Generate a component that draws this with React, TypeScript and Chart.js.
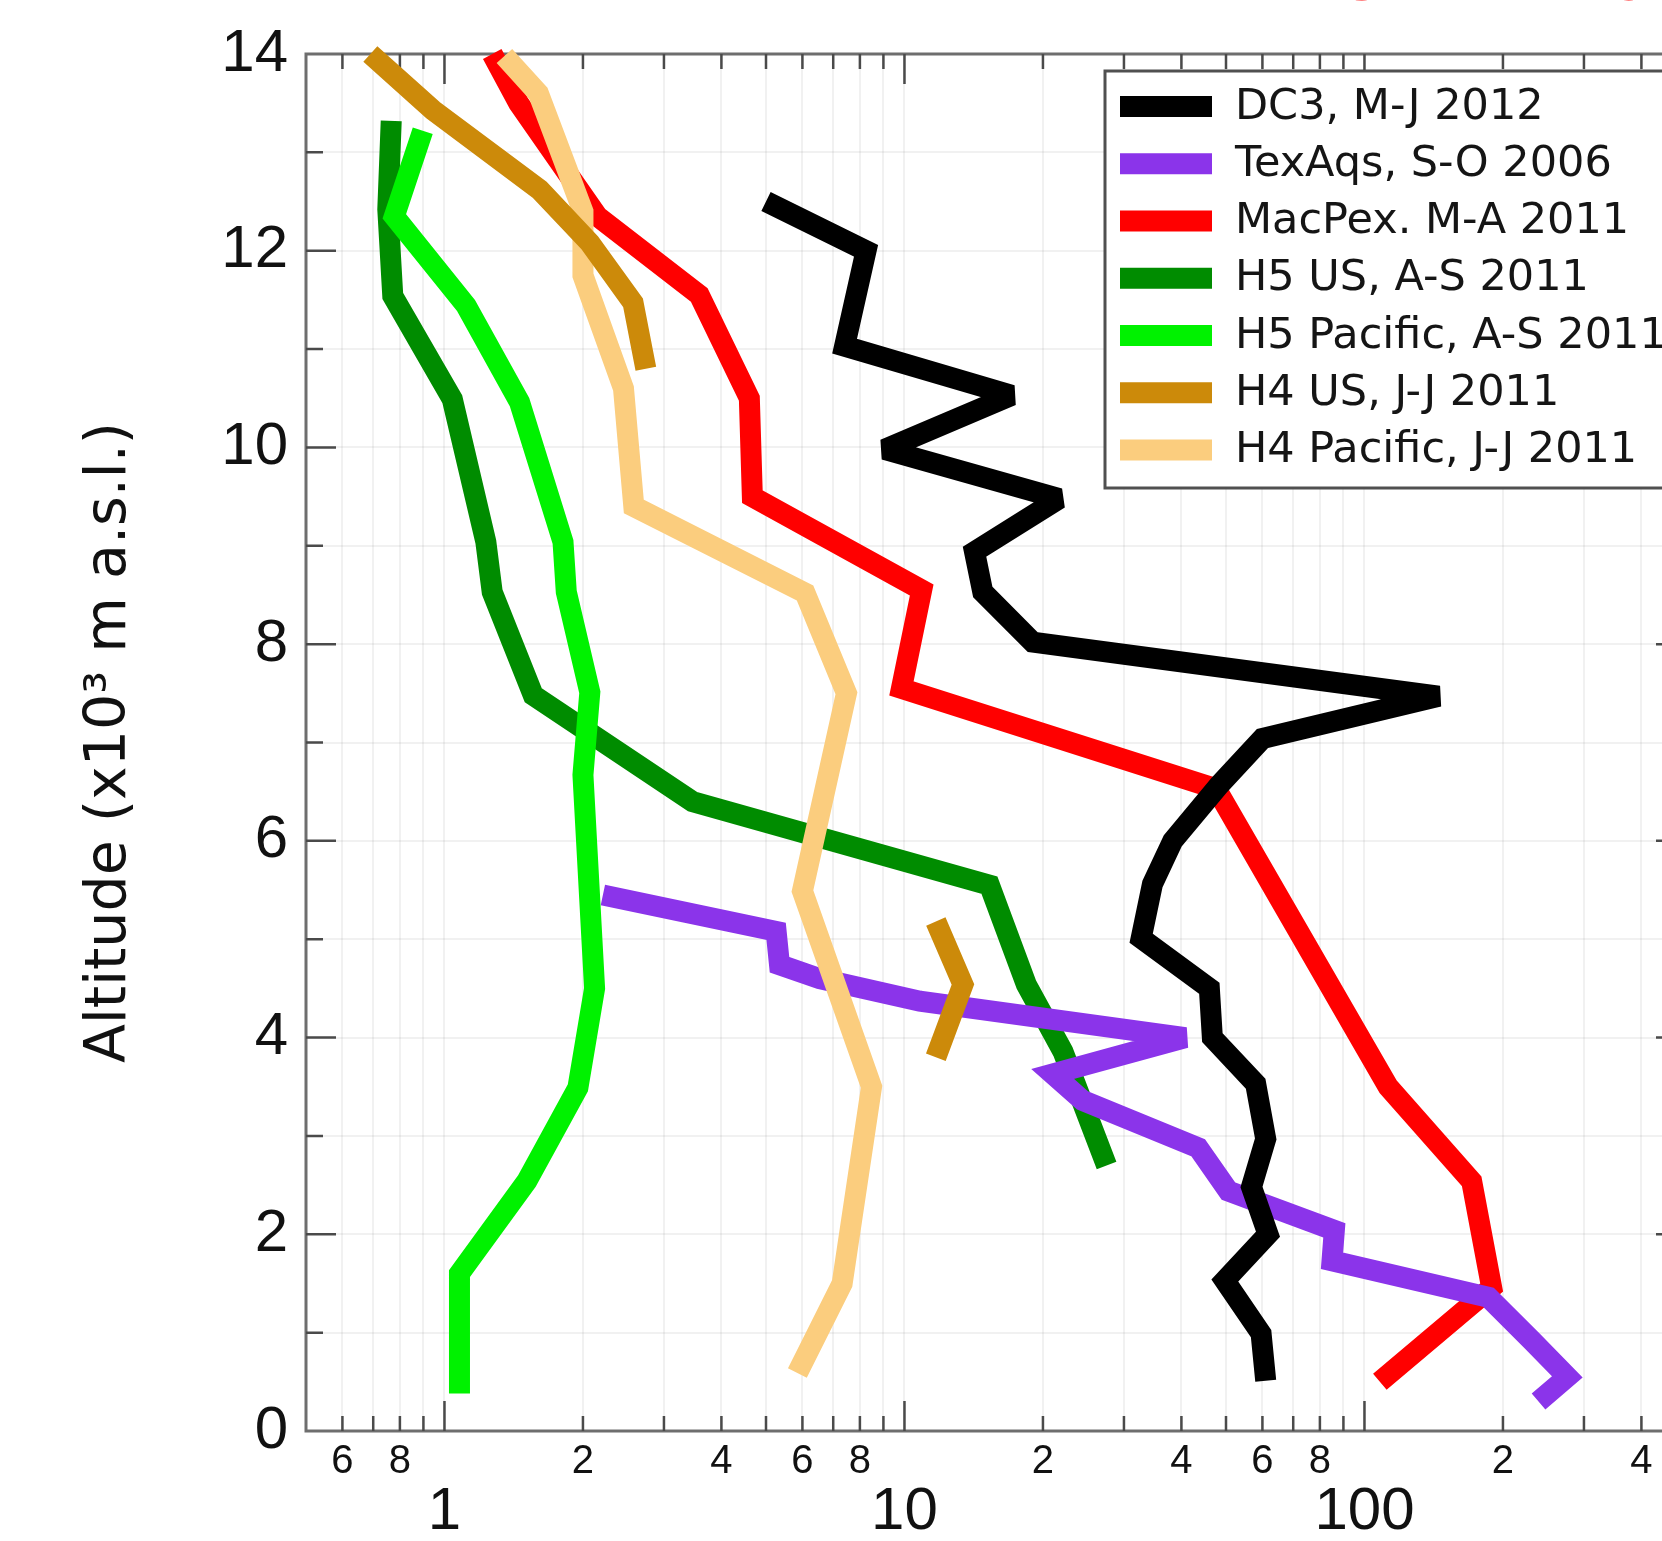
import React, { useEffect, useRef } from 'react';
import { Chart, registerables } from 'chart.js';

Chart.register(...registerables);

// ---------- data (altitude in km, value on log axis) ----------
const SERIES_LABELS = [
  'DC3, M-J 2012',
  'TexAqs, S-O 2006',
  'MacPex. M-A 2011',
  'H5 US, A-S 2011',
  'H5 Pacific, A-S 2011',
  'H4 US, J-J 2011',
  'H4 Pacific, J-J 2011',
];
const SERIES_COLORS = ['#000000', '#8b34ea', '#ff0000', '#008c00', '#00f200', '#cc8a0a', '#fbcd7e'];
// lower = drawn on top
const SERIES_ORDER = [4, 5, 6, 7, 3, 1, 2];

const DC3_ALT = [12.5, 12.0, 11.03, 10.53, 9.98, 9.48, 8.94, 8.53, 8.02, 7.47, 7.04, 6.57, 6.0, 5.56, 5.01, 4.5, 4.0, 3.53, 2.97, 2.48, 2.0, 1.53, 0.99, 0.51];
const DC3_VAL = [5.0, 8.25, 7.41, 17.1, 9.05, 21.7, 14.2, 14.8, 19.0, 145, 60, 48.4, 38.3, 34.6, 32.7, 46, 46.7, 58, 61, 56.8, 61.7, 49.7, 59.6, 61];

const TEXAQS_ALT = [5.45, 5.08, 4.74, 4.6, 4.37, 4.0, 3.63, 3.36, 2.88, 2.44, 2.04, 1.73, 1.36, 0.92, 0.55, 0.3];
const TEXAQS_VAL = [2.21, 5.26, 5.35, 6.54, 10.8, 40.8, 21.0, 24.4, 43.5, 50.6, 86, 85, 186, 231, 276, 239];

const MACPEX_ALT = [14.0, 13.5, 12.35, 11.55, 10.5, 9.5, 8.55, 7.55, 6.53, 3.5, 2.54, 1.46, 0.5];
const MACPEX_VAL = [1.27, 1.45, 2.15, 3.58, 4.6, 4.67, 10.9, 9.85, 47.6, 112.6, 171, 189, 108];

const H5US_ALT = [13.32, 12.42, 11.54, 10.49, 9.04, 8.53, 7.48, 6.4, 5.55, 4.54, 3.86, 2.7];
const H5US_VAL = [0.766, 0.753, 0.772, 1.04, 1.23, 1.27, 1.56, 3.46, 15.3, 18.4, 22.1, 27.5];

const H5PAC_ALT = [13.22, 12.35, 11.44, 10.46, 9.04, 8.53, 7.51, 6.67, 4.5, 3.49, 2.54, 1.6, 0.38];
const H5PAC_VAL = [0.897, 0.778, 1.115, 1.456, 1.81, 1.84, 2.07, 2.0, 2.12, 1.95, 1.51, 1.078, 1.078];

const H4US_ALT = [14.0, 13.43, 12.62, 12.08, 11.47, 10.8, null, 5.18, 4.54, 3.8];
const H4US_VAL = [0.69, 0.944, 1.61, 2.07, 2.57, 2.74, null, 11.7, 13.4, 11.7];

const H4PAC_ALT = [13.98, 13.6, 12.4, 11.75, 10.6, 9.4, 8.52, 7.5, 5.49, 3.5, 1.5, 0.59];
const H4PAC_VAL = [1.35, 1.6, 2.0, 2.0, 2.45, 2.58, 6.08, 7.48, 6.0, 8.48, 7.32, 5.85];

const SERIES_ALT = [DC3_ALT, TEXAQS_ALT, MACPEX_ALT, H5US_ALT, H5PAC_ALT, H4US_ALT, H4PAC_ALT];
const SERIES_VAL = [DC3_VAL, TEXAQS_VAL, MACPEX_VAL, H5US_VAL, H5PAC_VAL, H4US_VAL, H4PAC_VAL];

// ---------- axes ----------
const X_MIN = 0.5;
const X_MAX = 500;
const X_MAJOR = [1, 10, 100];
const X_MINOR_LABELED = [0.6, 0.8, 2, 4, 6, 8, 20, 40, 60, 80, 200, 400];
const Y_MIN = 0;
const Y_MAX = 14;
const Y_TITLE = 'Altitude (x10³ m a.s.l.)';
const TOP_TITLE = 'VERTICAL PROFILES';

const W = 1720;
const H = 1541;

function logTickValues(): number[] {
  const out: number[] = [];
  for (let d = 0.1; d <= 1000; d *= 10) {
    for (let m = 1; m <= 9; m++) {
      const v = Number((m * d).toPrecision(3));
      if (v >= X_MIN - 1e-9 && v <= X_MAX + 1e-9) out.push(v);
    }
  }
  return Array.from(new Set(out)).sort((a, b) => a - b);
}
const X_TICKS = logTickValues();

const isIn = (arr: number[], v: number) => arr.some((a) => Math.abs(a - v) < 1e-6 * Math.max(1, a));

const frameTicksPlugin = {
  id: 'frameTicks',
  beforeDatasetsDraw(chart: any) {
    const { ctx, chartArea } = chart;
    const { left, right, top, bottom } = chartArea;
    const xs = chart.scales.x;
    const ys = chart.scales.y;
    ctx.save();
    ctx.strokeStyle = '#6e6e6e';
    ctx.lineWidth = 3;
    ctx.strokeRect(left, top, right - left, bottom - top);
    ctx.strokeStyle = '#4a4a4a';
    ctx.lineWidth = 2.5;
    ctx.beginPath();
    X_TICKS.forEach((v) => {
      if (v <= X_MIN || v >= X_MAX) return;
      const px = xs.getPixelForValue(v);
      const len = isIn(X_MAJOR, v) ? 30 : 15;
      ctx.moveTo(px, bottom);
      ctx.lineTo(px, bottom - len);
      ctx.moveTo(px, top);
      ctx.lineTo(px, top + len);
    });
    for (let v = Y_MIN + 1; v < Y_MAX; v++) {
      const py = ys.getPixelForValue(v);
      const len = v % 2 === 0 ? 30 : 17;
      ctx.moveTo(left, py);
      ctx.lineTo(left + len, py);
      ctx.moveTo(right, py);
      ctx.lineTo(right - len, py);
    }
    ctx.stroke();
    ctx.restore();
    ctx.miterLimit = 2.2;
  },
};

const boxLegendPlugin = {
  id: 'boxLegend',
  afterDatasetsDraw(chart: any) {
    const ctx = chart.ctx;
    const bx = 1105, by = 71, bw = 700, bh = 417;
    ctx.save();
    ctx.fillStyle = '#ffffff';
    ctx.fillRect(bx, by, bw, bh);
    ctx.strokeStyle = '#505050';
    ctx.lineWidth = 3;
    ctx.strokeRect(bx, by, bw, bh);
    ctx.font = '43px "DejaVu Sans"';
    ctx.textBaseline = 'middle';
    ctx.textAlign = 'left';
    chart.data.datasets.forEach((ds: any, i: number) => {
      const cy = 106.5 + i * 57.25;
      ctx.fillStyle = ds.borderColor;
      ctx.fillRect(1120, cy - 10.5, 92, 21);
      ctx.fillStyle = '#151515';
      ctx.fillText(ds.label, 1235, cy + 1);
    });
    ctx.restore();
  },
};

export default function App() {
  const ref = useRef<HTMLCanvasElement>(null);

  useEffect(() => {
    if (!ref.current) return;
    const datasets = SERIES_LABELS.map((label, i) => ({
      label,
      data: SERIES_ALT[i].map((a, k) =>
        a === null ? { x: null, y: null } : { x: SERIES_VAL[i][k], y: a }
      ),
      borderColor: SERIES_COLORS[i],
      backgroundColor: SERIES_COLORS[i],
      borderWidth: 21,
      pointRadius: 0,
      pointHoverRadius: 0,
      fill: false,
      tension: 0,
      clip: false,
      spanGaps: false,
      borderCapStyle: 'butt',
      borderJoinStyle: 'miter',
      order: SERIES_ORDER[i],
    }));

    const chart = new Chart(ref.current, {
      type: 'line',
      data: { datasets } as any,
      options: {
        responsive: false,
        animation: false,
        devicePixelRatio: 1,
        events: [],
        layout: { padding: { top: 51, right: W - 1686, left: 0, bottom: 0 } },
        plugins: {
          legend: { display: false },
          tooltip: { enabled: false },
          title: { display: false },
        },
        scales: {
          x: {
            type: 'logarithmic',
            position: 'bottom',
            weight: 0,
            min: X_MIN,
            max: X_MAX,
            afterBuildTicks: (s: any) => {
              s.ticks = X_TICKS.map((v) => ({ value: v }));
            },
            afterFit: (s: any) => {
              s.height = 42;
            },
            grid: {
              display: true,
              drawTicks: false,
              color: 'rgba(0,0,0,0.055)',
              lineWidth: 2,
            },
            border: { display: false },
            ticks: {
              autoSkip: false,
              maxRotation: 0,
              minRotation: 0,
              padding: 7,
              color: '#111',
              font: { family: '"Liberation Sans", Arial', size: 40 },
              callback: (v: any) => (isIn(X_MINOR_LABELED, Number(v)) ? String(Number(v) < 1 ? Math.round(Number(v) * 10) : Math.round(Number(v) / Math.pow(10, Math.floor(Math.log10(Number(v)) + 1e-9)))) : ''),
            },
          },
          x2: {
            type: 'logarithmic',
            position: 'bottom',
            weight: 1,
            min: X_MIN,
            max: X_MAX,
            afterBuildTicks: (s: any) => {
              s.ticks = X_MAJOR.map((v) => ({ value: v }));
            },
            afterFit: (s: any) => {
              s.height = 68;
            },
            grid: { display: false, drawTicks: false },
            border: { display: false },
            ticks: {
              autoSkip: false,
              maxRotation: 0,
              minRotation: 0,
              padding: 3,
              color: '#111',
              font: { family: '"Liberation Sans", Arial', size: 60 },
              callback: (v: any) => String(v),
            },
          },
          y: {
            type: 'linear',
            position: 'left',
            min: Y_MIN,
            max: Y_MAX,
            afterFit: (s: any) => {
              s.width = 306;
            },
            grid: {
              display: true,
              drawTicks: false,
              color: 'rgba(0,0,0,0.055)',
              lineWidth: 2,
            },
            border: { display: false },
            ticks: {
              stepSize: 1,
              autoSkip: false,
              padding: 18,
              color: '#111',
              font: { family: '"Liberation Sans", Arial', size: 60 },
              callback: (v: any) => (Number(v) % 2 === 0 ? String(v) : ''),
            },
            title: {
              display: true,
              text: Y_TITLE,
              color: '#111',
              font: { family: '"DejaVu Sans"', size: 57 },
              padding: { top: 76, bottom: 0 },
            },
          },
        },
      } as any,
      plugins: [frameTicksPlugin, boxLegendPlugin],
    });
    return () => chart.destroy();
  }, []);

  return (
    <div
      style={{
        position: 'fixed',
        left: 0,
        top: 0,
        width: 1662,
        height: 1541,
        overflow: 'hidden',
        background: '#ffffff',
      }}
    >
      <canvas
        ref={ref}
        width={W}
        height={H}
        style={{ position: 'absolute', left: 0, top: 0, width: W, height: H }}
      />
      <div
        style={{
          position: 'absolute',
          left: 1122,
          top: -61,
          fontFamily: '"Liberation Sans", Arial',
          fontWeight: 'bold',
          fontSize: 72,
          lineHeight: '72px',
          color: '#ff0000',
          whiteSpace: 'nowrap',
        }}
      >
        {TOP_TITLE}
      </div>
    </div>
  );
}
